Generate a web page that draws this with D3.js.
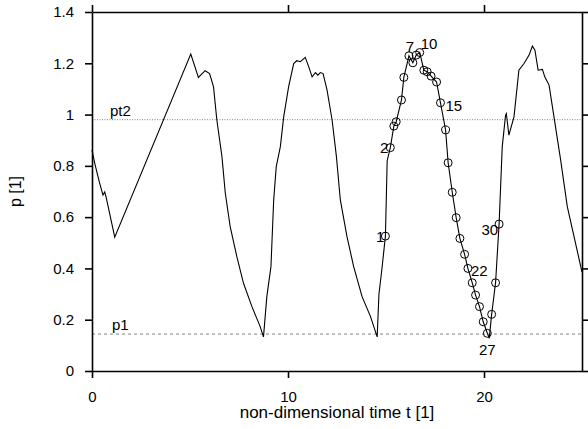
<!DOCTYPE html>
<html>
<head>
<meta charset="utf-8">
<script src="https://cdn.jsdelivr.net/npm/d3@7"></script>
<style>
  body { margin: 0; background: #fff; }
  text { font-family: "Liberation Sans", Arial, sans-serif; fill: #000; }
  .axis path, .axis line { stroke: #000; stroke-width: 1.6; }
  .axis text { font-size: 15px; }
  .curve { fill: none; stroke: #000; stroke-width: 1.1; }
  .marker { fill: none; stroke: #000; stroke-width: 1; }
</style>
</head>
<body>
<div id="chart"></div>
<script>
// curve before the marked cycle
var beforeT = [0, 0.14, 0.39, 0.56, 0.65, 0.72, 1.16, 5.04, 5.43, 5.77, 6.0, 6.2, 6.37, 6.63, 6.8, 7.05, 7.39, 7.73, 8.16, 8.58, 8.75,
  8.92, 9.13, 9.27, 9.4, 9.61, 9.78, 10.03, 10.29, 10.45, 10.63, 10.88, 11.06, 11.23, 11.4, 11.52, 11.65, 11.79, 11.99, 12.25, 12.47,
  12.67, 13.01, 13.35, 13.78, 14.21, 14.55, 14.64, 14.78]
var beforeP = [0.862, 0.81, 0.733, 0.686, 0.698, 0.678, 0.522, 1.236, 1.145, 1.171, 1.16, 1.108, 0.979, 0.836, 0.694, 0.563, 0.446, 0.342, 0.251, 0.173, 0.133,
  0.29, 0.407, 0.667, 0.797, 0.875, 0.991, 1.108, 1.199, 1.21, 1.206, 1.223, 1.186, 1.147, 1.164, 1.154, 1.164, 1.16, 1.096, 0.979, 0.836,
  0.667, 0.524, 0.407, 0.29, 0.212, 0.133, 0.30, 0.39]

// marked points 1..30
var markT = [14.97, 15.22, 15.4, 15.52, 15.79, 15.91, 16.17, 16.37, 16.54, 16.72, 16.93, 17.1, 17.3, 17.58, 17.78,
  18.04, 18.17, 18.38, 18.58, 18.77, 19.01, 19.18, 19.4, 19.57, 19.77, 19.96, 20.17, 20.39, 20.59, 20.77]
var markP = [0.526, 0.871, 0.955, 0.972, 1.057, 1.145, 1.229, 1.202, 1.232, 1.242, 1.173, 1.167, 1.15, 1.127, 1.046,
  0.94, 0.812, 0.697, 0.598, 0.517, 0.455, 0.4, 0.344, 0.296, 0.251, 0.192, 0.147, 0.221, 0.344, 0.573]
var markLabels = ["1", "2", "7", "10", "15", "22", "27", "30"]

// curve after the marked cycle
var afterT = [20.93, 21.1, 21.14, 21.27, 21.53, 21.78, 22.04, 22.3, 22.47, 22.6, 22.76, 22.98, 23.1, 23.32, 23.57, 23.91, 24.25, 25]
var afterP = [0.874, 0.998, 1.004, 0.92, 0.991, 1.173, 1.199, 1.232, 1.267, 1.251, 1.173, 1.176, 1.147, 1.115, 0.991, 0.823, 0.641, 0.386]

var levelNames = ["pt2", "p1"]
var levelValues = [0.98, 0.144]

var xTicks = [0, 10, 20]
var yTicks = [0, 0.2, 0.4, 0.6, 0.8, 1, 1.2, 1.4]

var width = 588, height = 429
var margin = {top: 12, right: 6, bottom: 58, left: 92}
var w = width - margin.left - margin.right
var h = height - margin.top - margin.bottom

var svg = d3.select("#chart").append("svg")
    .attr("width", width)
    .attr("height", height)

var g = svg.append("g").attr("transform", "translate(" + margin.left + "," + margin.top + ")")

var x = d3.scaleLinear().domain([0, 25]).range([0, w])
var y = d3.scaleLinear().domain([0, 1.4]).range([h, 0])

// reference levels
var levels = levelNames.map(function(n, i) { return {name: n, value: levelValues[i]} })
g.selectAll(".level")
    .data(levels)
    .enter().append("line")
    .attr("class", "level")
    .attr("x1", 0).attr("x2", w)
    .attr("y1", d => y(d.value)).attr("y2", d => y(d.value))
    .attr("stroke", "#808080")
    .attr("stroke-width", 1)
    .attr("stroke-dasharray", d => d.name == "pt2" ? "1,1.5" : "3,3")

g.selectAll(".levelLabel")
    .data(levels)
    .enter().append("text")
    .attr("x", d => d.name == "pt2" ? 18 : 20)
    .attr("y", d => y(d.value) - 4)
    .style("font-size", "15px")
    .text(d => d.name)

// curve
var pts = []
beforeT.forEach((t, i) => pts.push([t, beforeP[i]]))
markT.forEach((t, i) => {
  pts.push([t, markP[i]])
  if (i == 0) pts.push([15.06, 0.82])
  if (i == 26) pts.push([20.27, 0.128])
})
afterT.forEach((t, i) => pts.push([t, afterP[i]]))

var line = d3.line().x(d => x(d[0])).y(d => y(d[1]))
g.append("path").datum(pts).attr("class", "curve").attr("d", line)

var marks = markT.map((t, i) => ({n: i + 1, t: t, p: markP[i]}))
g.selectAll(".marker")
    .data(marks)
    .enter().append("circle")
    .attr("class", "marker")
    .attr("cx", d => x(d.t))
    .attr("cy", d => y(d.p))
    .attr("r", 4)

// label placement around the marker: [dx, dy, anchor]
var labelPos = {
  "1": [-1, 6, "end"], "2": [-2, 5, "end"], "7": [1, -4, "middle"], "10": [1, -4, "start"],
  "15": [5, 8, "start"], "22": [3, 8, "start"], "27": [0, 22, "middle"], "30": [-1, 11, "end"]
}
g.selectAll(".markLabel")
    .data(marks.filter(d => markLabels.indexOf(String(d.n)) >= 0))
    .enter().append("text")
    .attr("class", "markLabel")
    .attr("x", d => x(d.t) + labelPos[d.n][0])
    .attr("y", d => y(d.p) + labelPos[d.n][1])
    .attr("text-anchor", d => labelPos[d.n][2])
    .style("font-size", "15px")
    .text(d => d.n)

// axes
g.append("g").attr("class", "axis")
    .attr("transform", "translate(0," + h + ")")
    .call(d3.axisBottom(x).tickValues(xTicks).tickSize(7).tickSizeOuter(0).tickPadding(13).tickFormat(d3.format("~g")))

g.append("g").attr("class", "axis")
    .call(d3.axisLeft(y).tickValues(yTicks).tickSize(7).tickSizeOuter(0).tickPadding(11).tickFormat(d3.format("~g")))

g.append("g").attr("class", "axis")
    .call(d3.axisTop(x).tickValues(xTicks).tickSize(7).tickSizeOuter(0).tickFormat(""))

g.append("g").attr("class", "axis")
    .attr("transform", "translate(" + w + ",0)")
    .call(d3.axisRight(y).tickValues(yTicks).tickSize(7).tickSizeOuter(0).tickFormat(""))

svg.append("text")
    .attr("x", margin.left + w / 2)
    .attr("y", 418)
    .attr("text-anchor", "middle")
    .style("font-size", "17px")
    .text("non-dimensional time t [1]")

svg.append("text")
    .attr("transform", "translate(21," + (margin.top + h / 2) + ") rotate(-90)")
    .attr("text-anchor", "middle")
    .style("font-size", "16px")
    .text("p [1]")
</script>
</body>
</html>
